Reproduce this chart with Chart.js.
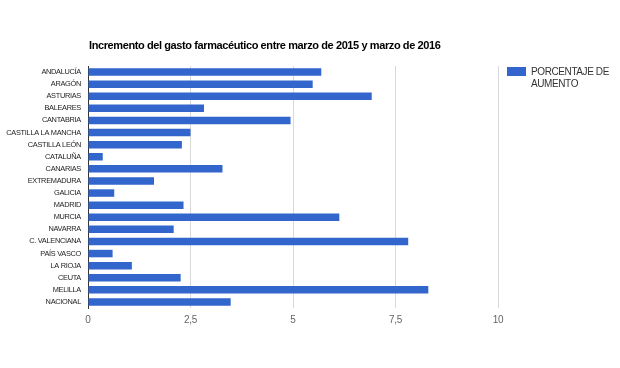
<!DOCTYPE html>
<html>
<head>
<meta charset="utf-8">
<script src="https://cdn.jsdelivr.net/npm/chart.js@4"></script>
<style>
  html, body { margin: 0; padding: 0; background: #fff; }
  #wrap { width: 620px; height: 368px; position: relative; }
</style>
</head>
<body>
<div id="wrap"><canvas id="grafico"></canvas></div>
<script>
const regiones = [
  "ANDALUCÍA", "ARAGÓN", "ASTURIAS", "BALEARES", "CANTABRIA",
  "CASTILLA LA MANCHA", "CASTILLA LEÓN", "CATALUÑA", "CANARIAS", "EXTREMADURA",
  "GALICIA", "MADRID", "MURCIA", "NAVARRA", "C. VALENCIANA",
  "PAÍS VASCO", "LA RIOJA", "CEUTA", "MELILLA", "NACIONAL",
];
const porcentaje = [
  5.69, 5.48, 6.92, 2.83, 4.94,
  2.50, 2.29, 0.36, 3.28, 1.61,
  0.64, 2.33, 6.13, 2.09, 7.81,
  0.60, 1.07, 2.26, 8.30, 3.48,
];
const ticksX = [0, 2.5, 5, 7.5, 10];
const serieLabel = ["PORCENTAJE DE", "AUMENTO"];
const titulo = "Incremento del gasto farmacéutico entre marzo de 2015 y marzo de 2016";

const FONT = "'Liberation Sans', Arial, sans-serif";
const AZUL = "#3366cc";

// the original text is set tighter than Arial, so squeeze it a little.
// title and legend are drawn by hand (legend label wraps on two lines)
const textos = {
  id: "textos",
  beforeDraw(chart) {
    chart.ctx.letterSpacing = "-0.3px";
  },
  afterDraw(chart) {
    const ctx = chart.ctx;
    const area = chart.chartArea;
    ctx.save();
    ctx.textBaseline = "middle";

    ctx.letterSpacing = "-0.4px";
    ctx.fillStyle = "#000";
    ctx.font = "bold 11px " + FONT;
    ctx.fillText(titulo, area.left + 1, 46);

    const x = area.right + 9;
    const y = area.top;
    ctx.fillStyle = AZUL;
    ctx.fillRect(x, y + 1, 19, 9);
    ctx.letterSpacing = "-0.4px";
    ctx.fillStyle = "#333";
    ctx.font = "10px " + FONT;
    serieLabel.forEach((line, i) => ctx.fillText(line, x + 24, y + 6.5 + i * 12));
    ctx.restore();
  },
};

Chart.defaults.font.family = FONT;
Chart.defaults.animation = false;

new Chart(document.getElementById("grafico"), {
  type: "bar",
  data: {
    labels: regiones,
    datasets: [{
      label: serieLabel.join(" "),
      data: porcentaje,
      backgroundColor: AZUL,
      borderWidth: 0,
      barPercentage: 0.62,
      categoryPercentage: 1,
    }],
  },
  options: {
    indexAxis: "y",
    responsive: true,
    maintainAspectRatio: false,
    layout: { padding: { top: 66, right: 122, left: 0, bottom: 0 } },
    plugins: {
      legend: { display: false },
      tooltip: { enabled: false },
      title: { display: false },
    },
    scales: {
      x: {
        min: 0,
        max: 10,
        afterFit: (scale) => { scale.height = 60; },
        afterBuildTicks: (scale) => { scale.ticks = ticksX.map((v) => ({ value: v })); },
        grid: { color: "#d9d9d9", drawTicks: false },
        border: { display: false },
        ticks: {
          color: "#666",
          font: { size: 10 },
          padding: 6,
          callback: (value) => String(value).replace(".", ","),
        },
      },
      y: {
        afterFit: (scale) => { scale.width = 88; },
        grid: { display: false, drawTicks: false },
        border: { display: true, color: "#333" },
        ticks: { color: "#222", font: { size: 7.4 }, padding: 7, autoSkip: false },
      },
    },
  },
  plugins: [textos],
});
</script>
</body>
</html>
